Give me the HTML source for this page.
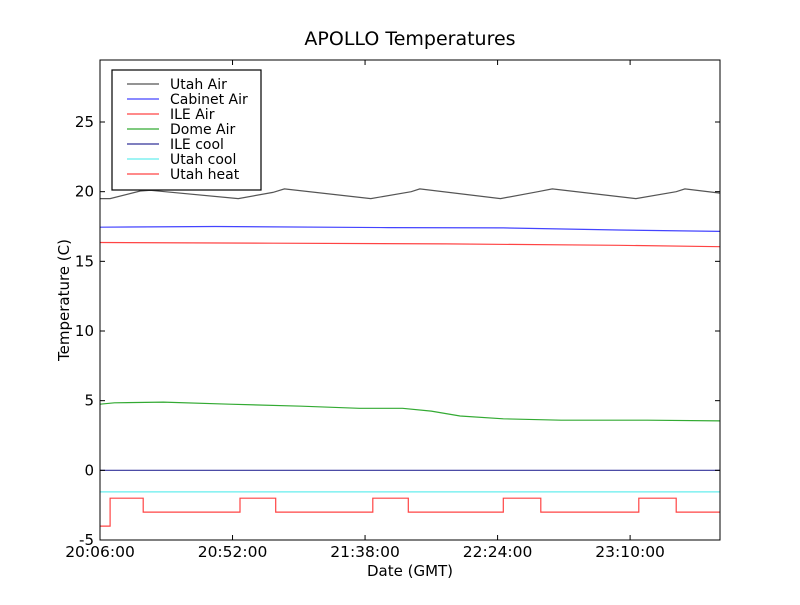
<!DOCTYPE html>
<html><head><meta charset="utf-8"><style>
body{margin:0;background:#fff;}
svg text{font-family:"DejaVu Sans","Liberation Sans",sans-serif;}
</style></head><body>
<svg id="chart" width="800" height="600" xmlns="http://www.w3.org/2000/svg">
<rect width="800" height="600" fill="#fff"/>
<text x="410" y="45" font-size="19" text-anchor="middle">APOLLO Temperatures</text>
<text x="410" y="576" font-size="15" text-anchor="middle">Date (GMT)</text>
<text transform="translate(69,300) rotate(-90)" font-size="15" text-anchor="middle">Temperature (C)</text>
<g id="series"></g>
<g id="axes"></g>
<rect x="100" y="60" width="620" height="480" fill="none" stroke="#000" stroke-width="1"/>
<g id="legend"></g>
</svg>
<script>
const xTickLabels=["20:06:00","20:52:00","21:38:00","22:24:00","23:10:00"];
const xTickMinutes=[0,46,92,138,184];
const yTicks=[-5,0,5,10,15,20,25];
const seriesNames=["Utah Air","Cabinet Air","ILE Air","Dome Air","ILE cool","Utah cool","Utah heat"];
const seriesColors=["#555555","#4444ff","#ff4444","#33aa33","#333399","#66eeee","#ff4444"];
const utahAirT=[0,3.5,14,17.5,48,60,64,94,108,111,139,152,157,186,200,203,215.2];
const utahAirV=[19.5,19.5,20.05,20.1,19.5,19.95,20.2,19.5,20.0,20.2,19.5,20.0,20.2,19.5,20.0,20.2,19.9];
const cabinetT=[0,40,100,140,180,215.2];
const cabinetV=[17.45,17.5,17.42,17.4,17.25,17.15];
const ileAirT=[0,60,120,180,215.2];
const ileAirV=[16.35,16.3,16.25,16.15,16.05];
const domeT=[0,5,22,45,70,90,105,115,125,140,160,190,215.2];
const domeV=[4.75,4.85,4.9,4.75,4.6,4.45,4.45,4.25,3.9,3.7,3.6,3.6,3.55];
const ileCoolT=[0,215.2];
const ileCoolV=[0,0];
const utahCoolT=[0,215.2];
const utahCoolV=[-1.55,-1.55];
const heatT=[0,3.5,15,48.6,61,94.7,107,140,153,187,200,215.2];
const heatV=[-4,-2,-3,-2,-3,-2,-3,-2,-3,-2,-3,-3];
const X0=100,X1=720,Y0=540,Y1=60,TMAX=215.2,VMIN=-5,VMAX=29.45;
function sx(t){return X0+(t/TMAX)*(X1-X0);}
function sy(v){return Y0-(v-VMIN)/(VMAX-VMIN)*(Y0-Y1);}
const NS="http://www.w3.org/2000/svg";
function mk(tag,attrs,parent){const e=document.createElementNS(NS,tag);for(const k in attrs)e.setAttribute(k,attrs[k]);parent.appendChild(e);return e;}
const sg=document.getElementById('series');
const data=[[utahAirT,utahAirV,false],[cabinetT,cabinetV,false],[ileAirT,ileAirV,false],[domeT,domeV,false],[ileCoolT,ileCoolV,false],[utahCoolT,utahCoolV,false],[heatT,heatV,true]];
data.forEach((d,i)=>{
  let pts=[];
  for(let j=0;j<d[0].length;j++){
    if(d[2]&&j>0)pts.push(sx(d[0][j]).toFixed(1)+","+sy(d[1][j-1]).toFixed(1));
    pts.push(sx(d[0][j]).toFixed(1)+","+sy(d[1][j]).toFixed(1));
  }
  const p=mk('polyline',{points:pts.join(" "),fill:"none",stroke:seriesColors[i],"stroke-width":1.2},sg);
  
  
});
const ax=document.getElementById('axes');
yTicks.forEach(v=>{
  const y=sy(v);
  mk('line',{x1:X0,x2:X0+5,y1:y,y2:y,stroke:"#000"},ax);
  mk('line',{x1:X1-5,x2:X1,y1:y,y2:y,stroke:"#000"},ax);
  const t=mk('text',{x:X0-6,y:y+5,"font-size":15,"text-anchor":"end"},ax);
  t.textContent=v;
  
  
});
xTickMinutes.forEach((m,i)=>{
  const x=sx(m);
  mk('line',{x1:x,x2:x,y1:Y0,y2:Y0-5,stroke:"#000"},ax);
  mk('line',{x1:x,x2:x,y1:Y1,y2:Y1+5,stroke:"#000"},ax);
  const t=mk('text',{x:x,y:Y0+17,"font-size":15.5,"text-anchor":"middle"},ax);
  t.textContent=xTickLabels[i];
  
  
});
const lg=document.getElementById('legend');
mk('rect',{x:112,y:70,width:149,height:120,fill:"#fff",stroke:"#000","stroke-width":1.2},lg);
seriesNames.forEach((n,i)=>{
  const y=84+i*15;
  const g=mk('g',{},lg);
  
  
  mk('line',{x1:127,x2:159,y1:y,y2:y,stroke:seriesColors[i],"stroke-width":1.2},g);
  const t=mk('text',{x:170,y:y+5,"font-size":14},g);
  t.textContent=n;
});
</script>
</body></html>
